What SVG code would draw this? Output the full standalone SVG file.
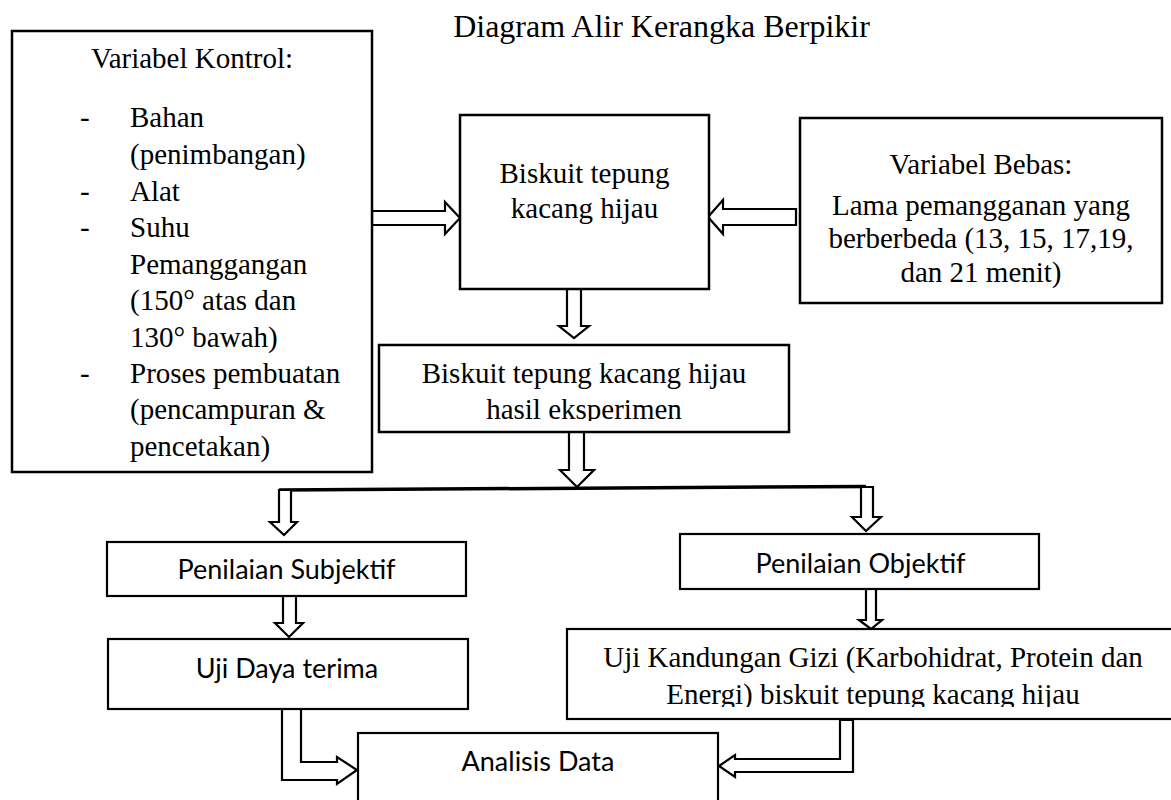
<svg xmlns="http://www.w3.org/2000/svg" width="1171" height="800" viewBox="0 0 1171 800">
<style>
.box{fill:#fff;stroke:#000;stroke-width:2.5}
.sbox{fill:#fff;stroke:#000;stroke-width:2.2}
.arr{fill:#fff;stroke:#000;stroke-width:2.2}
.serif{font-family:'Liberation Serif','Times New Roman',serif;font-size:29px;fill:#000}
.sans{font-family:Lato,'Liberation Sans',sans-serif;font-size:27px;fill:#000;text-anchor:middle}
.mid{text-anchor:middle}
</style>
<defs>
<clipPath id="clip2"><rect x="379" y="345" width="410" height="76"/></clipPath>
<clipPath id="clipK"><rect x="567" y="629" width="620" height="78"/></clipPath>
</defs>
<rect width="1171" height="800" fill="#fff"/>
<text id="title" x="661.5" y="37" class="serif mid" style="font-size:32px">Diagram Alir Kerangka Berpikir</text>

<g id="connectors">
<polygon class="arr" points="372,211 445,211 445,202 460,218 445,234 445,225 372,225"/>
<polygon class="arr" points="796,209 723,209 723,200 708,217 723,234 723,225 796,225"/>
<polygon class="arr" points="567,289 567,326 559,326 574,338 589,326 581,326 581,289"/>
<polygon class="arr" points="569,432 569,470 560,470 577,487 594,470 584,470 584,432"/>
<line x1="279" y1="490" x2="866" y2="486.5" stroke="#000" stroke-width="3.5"/>
<polygon class="arr" points="279,490 279,522 270,522 284,535 297,522 291,522 291,490"/>
<polygon class="arr" points="861,487 861,517 852,517 866,531 881,517 873,517 873,487"/>
<polygon class="arr" points="283,596 283,623 275,623 289,637 303,623 296,623 296,596"/>
<polygon class="arr" points="866,589 866,620 859,620 871,629 882,620 876,620 876,589"/>
<polygon class="arr" points="282,708 282,780 337,780 337,784 357,770 337,757 337,762 301,762 301,708"/>
<polygon class="arr" points="840,720 840,759 735,759 735,755 719,766 735,777 735,772 853,772 853,720"/>
</g>

<g id="node-kontrol" class="serif">
<rect class="box" x="12" y="31" width="360" height="441"/>
<text x="192" y="68" class="mid">Variabel Kontrol:</text>
<text x="80" y="127">-</text>
<text x="130" y="127">Bahan</text>
<text x="130" y="164">(penimbangan)</text>
<text x="80" y="200.5">-</text>
<text x="130" y="200.5">Alat</text>
<text x="80" y="237">-</text>
<text x="130" y="237">Suhu</text>
<text x="130" y="273.5">Pemanggangan</text>
<text x="130" y="310">(150° atas dan</text>
<text x="130" y="346.5">130° bawah)</text>
<text x="80" y="383">-</text>
<text x="130" y="383">Proses pembuatan</text>
<text x="130" y="419">(pencampuran &amp;</text>
<text x="130" y="455.5">pencetakan)</text>
</g>

<g id="node-biskuit" class="serif mid">
<rect class="box" x="460" y="115" width="249" height="174"/>
<text x="584.5" y="183">Biskuit tepung</text>
<text x="584.5" y="218">kacang hijau</text>
</g>

<g id="node-bebas" class="serif mid">
<rect class="box" x="800" y="118" width="362" height="185"/>
<text x="981" y="174">Variabel Bebas:</text>
<text x="981" y="215">Lama pemangganan yang</text>
<text x="981" y="248">berberbeda (13, 15, 17,19,</text>
<text x="981" y="281.5">dan 21 menit)</text>
</g>

<g id="node-hasil" class="serif mid">
<rect class="box" x="379" y="345" width="410" height="87"/>
<g clip-path="url(#clip2)">
<text x="584" y="383">Biskuit tepung kacang hijau</text>
<text x="584" y="419">hasil eksperimen</text>
</g>
</g>

<g id="node-subjektif" class="sans">
<rect class="sbox" x="107" y="542" width="359" height="54"/>
<text x="286.5" y="579">Penilaian Subjektif</text>
</g>

<g id="node-objektif" class="sans">
<rect class="sbox" x="680" y="534" width="359" height="55"/>
<text x="860.5" y="572.5">Penilaian Objektif</text>
</g>

<g id="node-daya" class="sans">
<rect class="sbox" x="108" y="639" width="360" height="70"/>
<text x="287" y="678">Uji Daya terima</text>
</g>

<g id="node-gizi" class="serif mid">
<rect class="sbox" x="567" y="629" width="620" height="90"/>
<g clip-path="url(#clipK)">
<text x="873" y="666.5">Uji Kandungan Gizi (Karbohidrat, Protein dan</text>
<text x="873" y="703.5">Energi) biskuit tepung kacang hijau</text>
</g>
</g>

<g id="node-analisis" class="sans">
<rect class="sbox" x="358" y="733" width="360" height="80"/>
<text x="538" y="771">Analisis Data</text>
</g>
</svg>
